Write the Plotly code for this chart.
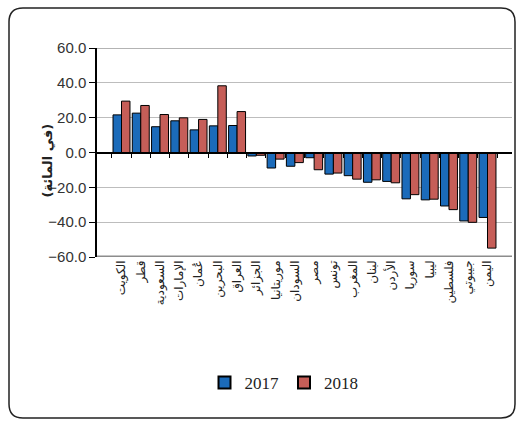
import plotly.graph_objects as go

categories = ["الكويت", "قطر", "السعودية", "الإمارات", "عُمان", "البحرين", "العراق",
              "الجزائر", "موريتانيا", "السودان", "مصر", "تونس", "المغرب", "لبنان",
              "الأردن", "سوريا", "ليبيا", "فلسطين", "جيبوتي", "اليمن"]
v2017 = [21.6, 22.6, 14.8, 18.2, 13.0, 15.3, 15.5, -2.0, -8.9, -7.9, -3.0, -12.4,
         -13.3, -17.1, -16.6, -26.6, -27.2, -30.7, -39.3, -37.3]
v2018 = [29.5, 27.0, 21.8, 19.9, 19.0, 38.3, 23.5, -1.6, -3.8, -5.8, -9.9, -11.8,
         -15.3, -15.7, -17.4, -24.2, -26.8, -32.8, -40.1, -54.9]
series_names = ["2017", "2018"]
y_ticks = [-60, -40, -20, 0, 20, 40, 60]

W, H = 518, 421
L, R, T, B = 97, 6, 48, 164
pw, ph = W - L - R, H - T - B

def px(x):
    return (x - L) / pw

def py(y):
    return (H - B - y) / ph

fig = go.Figure()
fig.add_trace(go.Bar(x=categories, y=v2017, name=series_names[0],
                     marker=dict(color="#1B6BBA", line=dict(color="black", width=1))))
fig.add_trace(go.Bar(x=categories, y=v2018, name=series_names[1],
                     marker=dict(color="#C65E58", line=dict(color="black", width=1))))
# helper trace for the zero-line axis with tick marks
fig.add_trace(go.Scatter(x=categories, y=[0] * len(categories), xaxis="x2",
                         mode="markers", marker=dict(opacity=0), showlegend=False,
                         hoverinfo="skip"))

# rounded outer frame
x0, x1, y0, y1, r = 9, 515, 8, 418, 14
path = (f"M {px(x0)},{py(y0 + r)} Q {px(x0)},{py(y0)} {px(x0 + r)},{py(y0)} "
        f"L {px(x1 - r)},{py(y0)} Q {px(x1)},{py(y0)} {px(x1)},{py(y0 + r)} "
        f"L {px(x1)},{py(y1 - r)} Q {px(x1)},{py(y1)} {px(x1 - r)},{py(y1)} "
        f"L {px(x0 + r)},{py(y1)} Q {px(x0)},{py(y1)} {px(x0)},{py(y1 - r)} Z")
fig.add_shape(type="path", path=path, xref="paper", yref="paper",
              line=dict(color="#222222", width=1.5), layer="below")

fig.add_annotation(text="<b>(في المائة)</b>", textangle=-90, xref="paper", yref="paper",
                   x=px(37), y=py(200), showarrow=False,
                   font=dict(family="DejaVu Sans", size=13, color="#222222"))

fig.update_layout(
    width=W, height=H,
    margin=dict(l=L, r=R, t=T, b=B),
    paper_bgcolor="white", plot_bgcolor="white",
    barmode="group", bargap=0.12, bargroupgap=0.0,
    showlegend=True,
    legend=dict(orientation="h", x=px(284), xanchor="center", y=py(383), yanchor="middle",
                font=dict(family="Liberation Serif", size=17, color="#222222"),
                itemwidth=30, traceorder="normal", tracegroupgap=0,
                itemsizing="constant"),
    xaxis=dict(type="category", showline=False, showgrid=False, zeroline=False,
               ticks="", tickangle=-90,
               tickfont=dict(family="DejaVu Sans", size=12, color="#222222")),
    xaxis2=dict(matches="x", overlaying="x", anchor="free", position=0.5,
                showline=True, linecolor="black", linewidth=1.5,
                ticks="outside", tickson="boundaries", ticklen=5, tickcolor="black",
                showticklabels=False, showgrid=False, zeroline=False),
    yaxis=dict(range=[-60, 60], tickvals=y_ticks, tickformat=".1f",
               showline=True, linecolor="black", linewidth=1.5,
               ticks="outside", ticklen=6, tickcolor="black",
               showgrid=True, gridcolor="#BDBDBD", gridwidth=1,
               zeroline=False,
               tickfont=dict(family="Liberation Sans", size=15, color="#333333")),
)
fig.add_hline(y=-60, line=dict(color="#8C8C8C", width=3))
fig.add_hline(y=60, line=dict(color="#9A9A9A", width=1.5))

fig.write_html("out.html")
